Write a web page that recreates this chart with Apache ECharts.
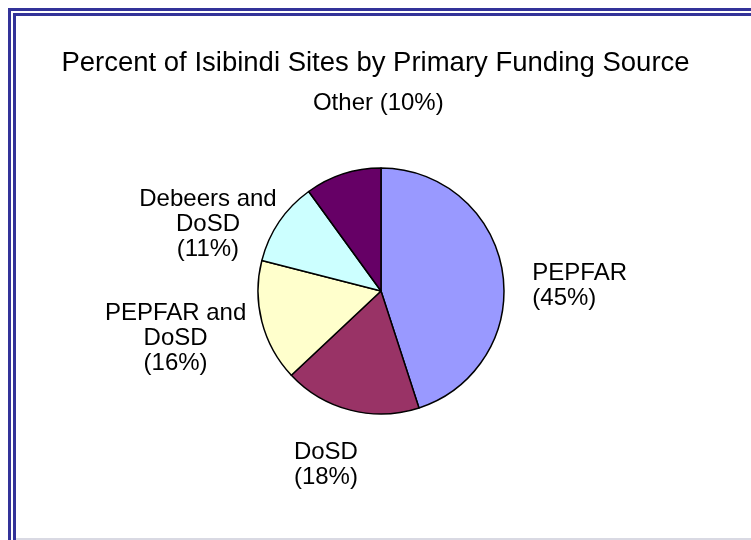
<!DOCTYPE html>
<html>
<head>
<meta charset="utf-8">
<script src="https://cdn.jsdelivr.net/npm/echarts@6/dist/echarts.min.js"></script>
<style>
  html, body { margin: 0; padding: 0; background: #fff; }
  #charts { width: 751px; height: 540px; }
</style>
</head>
<body>
<div id="charts"></div>
<script>
// funding sources, clockwise from 12 o'clock
const sources = ["PEPFAR", "DoSD", "PEPFAR and DoSD", "Debeers and DoSD", "Other"];
const shares = [45, 18, 16, 11, 10];
const labelTexts = ["PEPFAR\n(45%)", "DoSD\n(18%)", "PEPFAR and\nDoSD\n(16%)", "Debeers and\nDoSD\n(11%)", "Other (10%)"];
const colors = ["#9999ff", "#993366", "#ffffcc", "#ccffff", "#660066"];

// nudge of each label block away from echarts' default outside spot (px)
const labelShift = [[1, 16], [26, 41], [13, 13], [24, 10], [120, -57]];
const labelAlign = ["left", "center", "center", "center", "center"];

let myChart = echarts.init(document.getElementById("charts"));

let option = {
  backgroundColor: "#fff",
  animation: false,
  title: {
    text: "Percent of Isibindi Sites by Primary Funding Source",
    left: "center",
    top: 44,
    textStyle: {
      fontFamily: "Liberation Sans",
      fontWeight: "normal",
      fontSize: 27.5,
      color: "#000",
    },
  },
  graphic: [
    // double blue frame, left and top
    { type: "rect", shape: { x: 8, y: 8, width: 3, height: 540 }, style: { fill: "#333399" } },
    { type: "rect", shape: { x: 13, y: 13, width: 3, height: 540 }, style: { fill: "#333399" } },
    { type: "rect", shape: { x: 8, y: 8, width: 751, height: 3 }, style: { fill: "#333399" } },
    { type: "rect", shape: { x: 13, y: 13, width: 751, height: 3 }, style: { fill: "#333399" } },
    { type: "rect", shape: { x: 16, y: 538, width: 751, height: 2 }, style: { fill: "#d9d9e3" } },
  ],
  series: [
    {
      type: "pie",
      center: [381, 291],
      radius: 123,
      startAngle: 90,
      clockwise: true,
      avoidLabelOverlap: false,
      itemStyle: {
        borderColor: "#000",
        borderWidth: 1.5,
      },
      label: {
        show: true,
        position: "outside",
        fontFamily: "Liberation Sans",
        fontSize: 24,
        lineHeight: 25,
        color: "#000",
        formatter: (p) => labelTexts[p.dataIndex],
      },
      labelLine: { show: false, length: 14, length2: 10 },
      labelLayout: function (params) {
        let r = params.labelRect;
        let i = params.dataIndex;
        let s = labelShift[i];
        let x = labelAlign[i] == "left" ? r.x + s[0] : r.x + r.width / 2 + s[0];
        return {
          x: x,
          y: r.y + r.height / 2 + s[1],
          align: labelAlign[i],
          verticalAlign: "middle",
        };
      },
      emphasis: { disabled: true },
      data: sources.map((s, i) => ({
        name: s,
        value: shares[i],
        itemStyle: { color: colors[i] },
      })),
    },
  ],
};

myChart.setOption(option);
</script>
</body>
</html>
